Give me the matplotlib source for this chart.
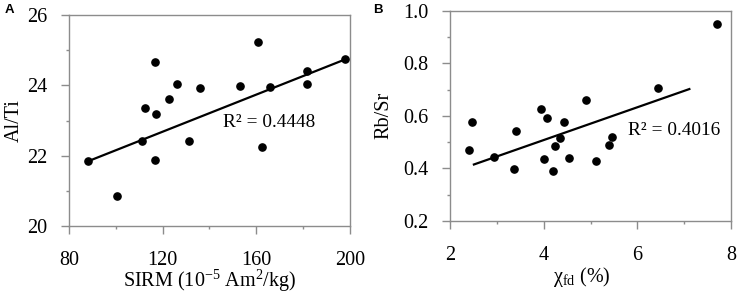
import numpy as np
import matplotlib
matplotlib.use('Agg')
from matplotlib import pyplot as plt
from matplotlib.ticker import MultipleLocator

plt.rcParams['font.family'] = ['Liberation Serif', 'DejaVu Serif']
plt.rcParams['mathtext.fontset'] = 'custom'
plt.rcParams['mathtext.rm'] = 'Liberation Serif'
plt.rcParams['mathtext.it'] = 'Liberation Serif:italic'

# panel A: SIRM vs Al/Ti
sirm = [88.1, 100.5, 111.3, 112.3, 116.6, 117.0, 116.7, 122.6, 126.1, 131.2,
        135.8, 153.0, 160.8, 162.4, 166.0, 181.6, 181.6, 198.0]
al_ti = [21.86, 20.85, 22.42, 23.37, 24.67, 23.19, 21.88, 23.61, 24.05, 22.42,
         23.93, 23.97, 25.22, 22.26, 23.96, 24.40, 24.04, 24.74]
fit_a_x = [88.1, 198.0]
fit_a_y = [21.84, 24.74]
r2_a = 'R² = 0.4448'

# panel B: chi_fd vs Rb/Sr
chi_fd = [2.40, 2.48, 2.93, 3.36, 3.41, 3.95, 4.01, 4.08, 4.20, 4.24,
          4.35, 4.44, 4.53, 4.90, 5.11, 5.39, 5.45, 6.44, 7.71]
rb_sr = [0.469, 0.576, 0.444, 0.397, 0.541, 0.627, 0.437, 0.592, 0.389, 0.486,
         0.517, 0.576, 0.439, 0.660, 0.429, 0.489, 0.520, 0.705, 0.949]
fit_b_x = [2.51, 7.11]
fit_b_y = [0.415, 0.702]
r2_b = 'R² = 0.4016'

fig = plt.figure(figsize=(7.37, 2.93), dpi=100)
ax1 = fig.add_axes([0.0936, 0.2287, 0.3813, 0.720])
ax2 = fig.add_axes([0.6106, 0.2457, 0.3813, 0.7177])

gray = '#8c8c8c'

def style(ax):
    for s in ax.spines.values():
        s.set_color(gray)
        s.set_linewidth(1.0)
    ax.tick_params(which='major', direction='out', length=5.5, width=1.0,
                   color=gray, labelsize=14.5)
    ax.tick_params(axis='x', which='major', pad=12.5)
    ax.tick_params(axis='y', which='major', pad=10)
    ax.tick_params(which='minor', direction='out', length=2.5, width=1.0, color=gray)
    ax.tick_params(top=False, right=False)
    ax.xaxis.label.set_va('center')
    ax.yaxis.label.set_va('center')

# A
ax1.plot(sirm, al_ti, 'o', color='black', ms=5.2, zorder=3)
ax1.plot(fit_a_x, fit_a_y, color='black', lw=1.6)
ax1.set_xlim(80, 200)
ax1.set_ylim(20, 26)
ax1.xaxis.set_major_locator(MultipleLocator(40))
ax1.xaxis.set_minor_locator(MultipleLocator(20))
ax1.yaxis.set_major_locator(MultipleLocator(2))
ax1.yaxis.set_minor_locator(MultipleLocator(1))
ax1.set_xlabel('SIRM (10$^{-5}$ Am$^{2}$/kg)', fontsize=14.5)
ax1.set_ylabel('Al/Ti', fontsize=14.5)
style(ax1)
ax1.xaxis.set_label_coords(0.5, -0.262)
ax1.yaxis.set_label_coords(-0.196, 0.5)
ax1.text(145.8, 22.93, r2_a, fontsize=13.9, va='center', ha='left')
fig.text(0.006, 0.965, 'A', family='Liberation Sans', weight='bold', fontsize=9.5, va='center')

# B
ax2.plot(chi_fd, rb_sr, 'o', color='black', ms=5.2, zorder=3)
ax2.plot(fit_b_x, fit_b_y, color='black', lw=1.6)
ax2.set_xlim(2, 8)
ax2.set_ylim(0.2, 1.0)
ax2.xaxis.set_major_locator(MultipleLocator(2))
ax2.xaxis.set_minor_locator(MultipleLocator(1))
ax2.yaxis.set_major_locator(MultipleLocator(0.2))
ax2.yaxis.set_minor_locator(MultipleLocator(0.1))
ax2.yaxis.set_major_formatter(matplotlib.ticker.FormatStrFormatter('%.1f'))
ax2.set_xlabel('χ$_{\\mathrm{fd}}$ (%)', fontsize=14.5)
ax2.set_ylabel('Rb/Sr', fontsize=14.5)
style(ax2)
ax2.xaxis.set_label_coords(0.47, -0.265)
ax2.yaxis.set_label_coords(-0.235, 0.5)
ax2.text(5.79, 0.546, r2_b, fontsize=13.9, va='center', ha='left')
fig.text(0.506, 0.965, 'B', family='Liberation Sans', weight='bold', fontsize=9.5, va='center')

fig.savefig('out.png', dpi=100)
